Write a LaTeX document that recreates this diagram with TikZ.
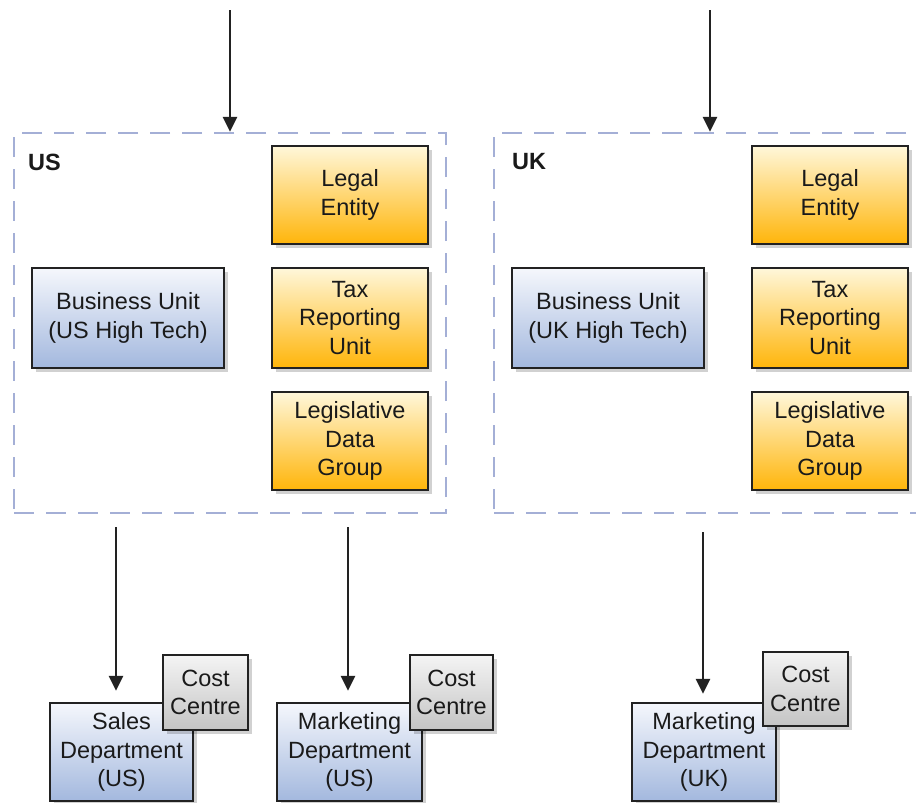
\documentclass[tikz,border=0pt]{standalone}
\usepackage{fontspec}
\setmainfont{Liberation Sans}
\usetikzlibrary{arrows.meta,shadows}
\definecolor{txt}{HTML}{1A1A1A}
\definecolor{edge}{HTML}{222222}
\definecolor{dashc}{HTML}{A4AFD6}
\definecolor{orT}{HTML}{FFF7DA}
\definecolor{orB}{HTML}{FFB50A}
\definecolor{blT}{HTML}{F5F7FC}
\definecolor{blB}{HTML}{A3B8DE}
\definecolor{grT}{HTML}{F4F4F4}
\definecolor{grB}{HTML}{C4C4C4}
\tikzset{
  basebox/.style={draw=edge, line width=2.4pt, align=center, text=txt, inner sep=0pt,
    font=\fontsize{23.5}{28.5}\selectfont,
    drop shadow={shadow xshift=4pt, shadow yshift=-4pt, opacity=0.18, fill=black}},
  orbox/.style={basebox, top color=orT, bottom color=orB},
  blbox/.style={basebox, top color=blT, bottom color=blB},
  grbox/.style={basebox, top color=grT, bottom color=grB},
  region/.style={draw=dashc, line width=2.5pt, dash pattern=on 20pt off 12pt, inner sep=0pt},
  arr/.style={draw=edge, line width=2.8pt, -{Triangle[length=15pt,width=14pt]}},
  reglabel/.style={font=\bfseries\fontsize{23.5}{28}\selectfont, text=txt, anchor=west, inner sep=0pt}
}
\begin{document}
\begin{tikzpicture}[x=1pt,y=-1pt]
\clip (0,0) rectangle (916,803);
\fill[white] (0,0) rectangle (916,803);
% regions
\node[region, minimum width=432pt, minimum height=380pt] (usbox) at (230,323) {};
\node[region, minimum width=432pt, minimum height=380pt] (ukbox) at (710,323) {};
\node[reglabel] (uslab) at (28,162) {US};
\node[reglabel] (uklab) at (512,162) {UK};
% US entities
\node[orbox, minimum width=156pt, minimum height=98pt] (le1) at (350,195) {Legal\\Entity};
\node[orbox, minimum width=156pt, minimum height=100pt] (tru1) at (350,318) {Tax\\Reporting\\Unit};
\node[orbox, minimum width=156pt, minimum height=98pt] (ldg1) at (350,441) {Legislative\\Data\\Group};
\node[blbox, minimum width=192pt, minimum height=100pt] (bu1) at (128,318) {Business Unit\\(US High Tech)};
% UK entities
\node[orbox, minimum width=156pt, minimum height=98pt] (le2) at (830,195) {Legal\\Entity};
\node[orbox, minimum width=156pt, minimum height=100pt] (tru2) at (830,318) {Tax\\Reporting\\Unit};
\node[orbox, minimum width=156pt, minimum height=98pt] (ldg2) at (830,441) {Legislative\\Data\\Group};
\node[blbox, minimum width=192pt, minimum height=100pt] (bu2) at (608,318) {Business Unit\\(UK High Tech)};
% departments
\node[blbox, minimum width=143pt, minimum height=98pt] (sd) at (121.5,752) {Sales\\Department\\(US)};
\node[grbox, minimum width=85pt, minimum height=75pt] (cc1) at (205.5,692.5) {Cost\\Centre};
\node[blbox, minimum width=145pt, minimum height=98pt] (md1) at (349.5,752) {Marketing\\Department\\(US)};
\node[grbox, minimum width=83pt, minimum height=75pt] (cc2) at (451.5,692.5) {Cost\\Centre};
\node[blbox, minimum width=144pt, minimum height=98pt] (md2) at (704,752) {Marketing\\Department\\(UK)};
\node[grbox, minimum width=85pt, minimum height=74pt] (cc3) at (805.5,689) {Cost\\Centre};
% arrows
\coordinate (t1) at (230,10);
\coordinate (t2) at (710,10);
\draw[arr] (t1) -- (usbox.north);
\draw[arr] (t2) -- (ukbox.north);
\coordinate (b1) at (116,527);
\coordinate (b2) at (348,527);
\coordinate (b3) at (703,532);
\draw[arr, shorten >=11pt] (b1) -- (b1 |- sd.north);
\draw[arr, shorten >=11pt] (b2) -- (b2 |- md1.north);
\draw[arr, shorten >=8pt] (b3) -- (b3 |- md2.north);
\end{tikzpicture}
\end{document}
